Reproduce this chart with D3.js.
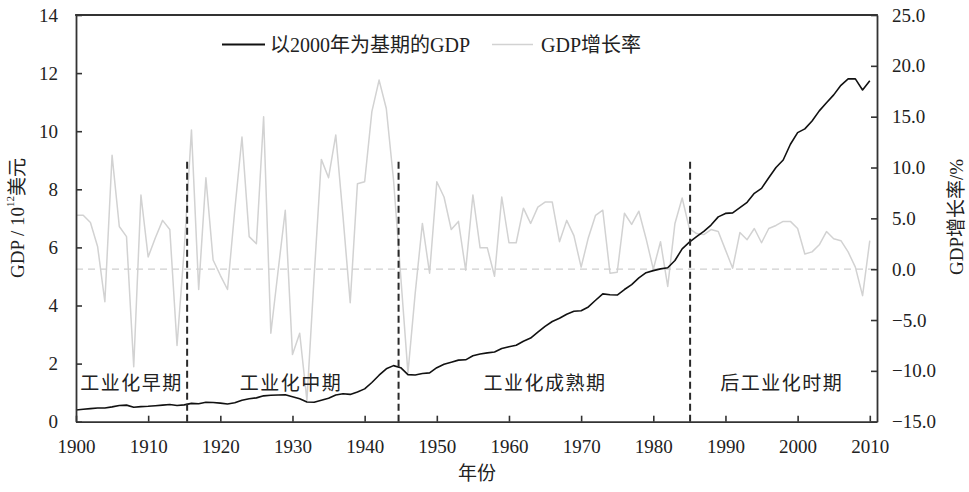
<!DOCTYPE html>
<html>
<head>
<meta charset="utf-8">
<script src="https://cdn.jsdelivr.net/npm/d3@7/dist/d3.min.js"></script>
<style>
  html, body { margin: 0; padding: 0; background: #fff; }
  svg { display: block; }
  text { font-family: "Liberation Serif", "Noto Sans CJK SC", serif; fill: #222; }
</style>
</head>
<body>
<svg id="chart" width="969" height="492"></svg>
<script>
// Years covered by both series
const years = d3.range(1900, 2011);

// Real GDP, 2000 base year, 10^12 USD
const gdp = [
  0.40, 0.43, 0.45, 0.47, 0.47, 0.51, 0.56, 0.57, 0.50, 0.52,
  0.53, 0.55, 0.57, 0.59, 0.56, 0.58, 0.63, 0.62, 0.67, 0.66,
  0.64, 0.61, 0.65, 0.74, 0.79, 0.82, 0.89, 0.91, 0.92, 0.93,
  0.86, 0.79, 0.68, 0.67, 0.74, 0.81, 0.92, 0.96, 0.94, 1.02,
  1.13, 1.35, 1.60, 1.82, 1.93, 1.86, 1.62, 1.61, 1.66, 1.68,
  1.86, 1.98, 2.05, 2.12, 2.13, 2.27, 2.33, 2.37, 2.40, 2.52,
  2.58, 2.63, 2.77, 2.88, 3.08, 3.28, 3.45, 3.56, 3.70, 3.80,
  3.82, 3.95, 4.18, 4.40, 4.37, 4.36, 4.55, 4.72, 4.95, 5.13,
  5.20, 5.26, 5.30, 5.55, 5.95, 6.18, 6.37, 6.55, 6.77, 7.05,
  7.17, 7.19, 7.37, 7.55, 7.86, 8.03, 8.40, 8.75, 9.01, 9.55,
  9.95, 10.08, 10.35, 10.70, 10.98, 11.25, 11.58, 11.80, 11.80, 11.42,
  11.74
];

// Annual GDP growth rate, %
const growth = [
  5.3, 5.3, 4.6, 2.2, -3.2, 11.2, 4.2, 3.2, -9.6, 7.3,
  1.2, 3.1, 4.8, 3.9, -7.5, 2.0, 13.7, -2.0, 9.0, 0.9,
  -0.6, -2.0, 5.8, 13.0, 3.2, 2.5, 15.0, -6.3, -0.2, 5.8,
  -8.4, -6.3, -12.9, -0.7, 10.8, 9.0, 13.2, 5.2, -3.3, 8.4,
  8.6, 15.5, 18.6, 15.8, 8.8, -0.7, -10.2, -2.4, 4.5, -0.4,
  8.6, 7.1, 3.9, 4.7, -0.1, 7.3, 2.1, 2.1, -0.7, 7.1,
  2.6, 2.6, 6.0, 4.5, 6.1, 6.6, 6.6, 2.7, 4.8, 3.3,
  0.2, 3.1, 5.3, 5.8, -0.4, -0.3, 5.5, 4.4, 5.7, 3.0,
  0.0, 2.7, -1.7, 4.5, 7.0, 4.0, 3.5, 3.4, 3.9, 3.7,
  1.9, 0.1, 3.6, 2.9, 4.0, 2.6, 4.0, 4.3, 4.7, 4.7,
  4.0, 1.5, 1.7, 2.4, 3.7, 3.0, 2.8, 1.7, 0.2, -2.6,
  2.8
];

// Tick values
const xTicks = [1900, 1910, 1920, 1930, 1940, 1950, 1960, 1970, 1980, 1990, 2000, 2010];
const leftTicks = [0, 2, 4, 6, 8, 10, 12, 14];
const rightTicks = [-15, -10, -5, 0, 5, 10, 15, 20, 25];

// Stage boundaries and stage names
const stageBreaks = [1915.4, 1944.7, 1985.1];
const stageNames = ["工业化早期", "工业化中期", "工业化成熟期", "后工业化时期"];
const stageCenters = [1907.7, 1929.8, 1965.0, 1997.8];

const svg = d3.select("#chart");
const plotLeft = 76, plotRight = 877, plotTop = 15, plotBottom = 421.7;

const x = d3.scaleLinear().domain([1900, 2011]).range([plotLeft, plotRight]);
const yL = d3.scaleLinear().domain([0, 14]).range([plotBottom, plotTop]);
const yR = d3.scaleLinear().domain([-15, 25]).range([plotBottom, plotTop]);

const gdpData = years.map((yr, i) => ({ yr, v: gdp[i] }));
const growthData = years.map((yr, i) => ({ yr, v: growth[i] }));

// growth-rate line (light grey, right axis)
svg.append("path")
  .datum(growthData)
  .attr("fill", "none")
  .attr("stroke", "#d2d2d2")
  .attr("stroke-width", 1.5)
  .attr("stroke-linejoin", "round")
  .attr("d", d3.line().x(d => x(d.yr)).y(d => yR(d.v)));

// zero-growth reference line
svg.append("line")
  .attr("x1", plotLeft).attr("x2", plotRight)
  .attr("y1", yR(0)).attr("y2", yR(0))
  .attr("stroke", "#cfcfcf")
  .attr("stroke-width", 1.2)
  .attr("stroke-dasharray", "7,5");

// GDP line (black, left axis)
svg.append("path")
  .datum(gdpData)
  .attr("fill", "none")
  .attr("stroke", "#111")
  .attr("stroke-width", 1.6)
  .attr("stroke-linejoin", "round")
  .attr("d", d3.line().x(d => x(d.yr)).y(d => yL(d.v)));

// stage boundaries
svg.selectAll(".stage-break")
  .data(stageBreaks)
  .enter().append("line")
  .attr("class", "stage-break")
  .attr("x1", d => x(d)).attr("x2", d => x(d))
  .attr("y1", yL(0)).attr("y2", yL(9))
  .attr("stroke", "#2a2a2a")
  .attr("stroke-width", 2)
  .attr("stroke-dasharray", "7,4");

// stage names
svg.selectAll(".stage-name")
  .data(stageNames)
  .enter().append("text")
  .attr("class", "stage-name")
  .attr("x", (d, i) => x(stageCenters[i]))
  .attr("y", yL(1.33))
  .attr("text-anchor", "middle")
  .attr("dominant-baseline", "central")
  .attr("font-size", 19)
  .attr("letter-spacing", 1.5)
  .text(d => d);

// axes
const axisColor = "#333";
const styleAxis = g => {
  g.select(".domain").attr("stroke", axisColor).attr("stroke-width", 1.8);
  g.selectAll(".tick line").attr("stroke", axisColor).attr("stroke-width", 1.6);
  g.selectAll(".tick text")
    .attr("font-size", 19)
    .attr("fill", "#222")
    .style("font-family", '"Liberation Serif", serif');
};

svg.append("g")
  .attr("transform", `translate(0,${plotBottom})`)
  .call(d3.axisBottom(x).tickValues(xTicks).tickSize(-6).tickSizeOuter(0).tickPadding(18).tickFormat(d3.format("d")))
  .call(styleAxis);

svg.append("g")
  .attr("transform", `translate(${plotLeft},0)`)
  .call(d3.axisLeft(yL).tickValues(leftTicks).tickSize(-6).tickSizeOuter(0).tickPadding(18))
  .call(styleAxis);

svg.append("g")
  .attr("transform", `translate(${plotRight},0)`)
  .call(d3.axisRight(yR).tickValues(rightTicks).tickSize(-6).tickSizeOuter(0).tickPadding(15)
    .tickFormat(d => (d < 0 ? "\u2212" : "") + Math.abs(d).toFixed(1)))
  .call(styleAxis);

// top frame
svg.append("line")
  .attr("x1", plotLeft - 0.9).attr("x2", plotRight + 0.9)
  .attr("y1", plotTop).attr("y2", plotTop)
  .attr("stroke", axisColor).attr("stroke-width", 1.8);

// legend
const legend = svg.append("g");
legend.append("line")
  .attr("x1", 222).attr("x2", 265).attr("y1", 44.5).attr("y2", 44.5)
  .attr("stroke", "#111").attr("stroke-width", 1.8);
legend.append("text")
  .attr("x", 270).attr("y", 44.5)
  .attr("dominant-baseline", "central")
  .attr("font-size", 20)
  .text("以2000年为基期的GDP");
legend.append("line")
  .attr("x1", 492).attr("x2", 533).attr("y1", 44.5).attr("y2", 44.5)
  .attr("stroke", "#d2d2d2").attr("stroke-width", 1.6);
legend.append("text")
  .attr("x", 541).attr("y", 44.5)
  .attr("dominant-baseline", "central")
  .attr("font-size", 20)
  .text("GDP增长率");

// axis titles
const leftTitle = svg.append("text")
  .attr("transform", "translate(17,218) rotate(-90)")
  .attr("text-anchor", "middle")
  .attr("dominant-baseline", "central")
  .attr("font-size", 19);
leftTitle.append("tspan").text("GDP / 10");
leftTitle.append("tspan").attr("font-size", 11).attr("dy", -7).text("12");
leftTitle.append("tspan").attr("dy", 7).text("美元");

svg.append("text")
  .attr("transform", "translate(956,217) rotate(-90)")
  .attr("text-anchor", "middle")
  .attr("dominant-baseline", "central")
  .attr("font-size", 19)
  .text("GDP增长率/%");

svg.append("text")
  .attr("x", 477).attr("y", 473)
  .attr("text-anchor", "middle")
  .attr("dominant-baseline", "central")
  .attr("font-size", 19)
  .text("年份");
</script>
</body>
</html>
